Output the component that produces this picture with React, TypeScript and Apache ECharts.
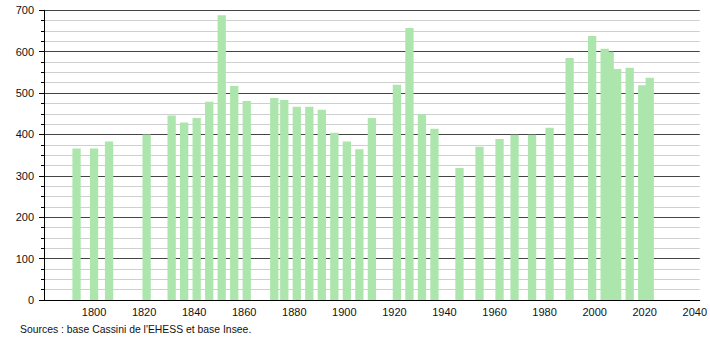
import React, { useEffect, useRef } from "react";
import * as echarts from "echarts";

const years = [
  1793, 1800, 1806, 1821, 1831, 1836, 1841, 1846, 1851, 1856, 1861,
  1872, 1876, 1881, 1886, 1891, 1896, 1901, 1906, 1911,
  1921, 1926, 1931, 1936, 1946, 1954, 1962, 1968, 1975, 1982,
  1990, 1999, 2004, 2006, 2009, 2014, 2019, 2022,
];
const population = [
  366, 366, 383, 400, 446, 429, 440, 479, 688, 517, 481,
  488, 483, 467, 467, 460, 404, 383, 364, 440,
  520, 657, 449, 414, 319, 370, 389, 399, 399, 416,
  585, 638, 607, 600, 558, 561, 519, 537,
];
const sourceText = "Sources : base Cassini de l'EHESS et base Insee.";

export default function App() {
  const ref = useRef<HTMLDivElement>(null);
  useEffect(() => {
    document.body.style.margin = "0";
    if (!ref.current) return;
    const chart = echarts.init(ref.current, null, { renderer: "svg" });
    const font = "'Liberation Sans', Arial, sans-serif";
    chart.setOption({
      animation: false,
      textStyle: { fontFamily: font },
      grid: { left: 44, right: 9, top: 10.3, bottom: 40, containLabel: false },
      xAxis: {
        type: "value",
        min: 1780,
        max: 2042,
        interval: 20,
        axisLine: { show: true, lineStyle: { color: "#000", width: 1 } },
        axisTick: { show: false },
        splitLine: { show: false },
        axisLabel: {
          color: "#111",
          fontSize: 11,
          fontFamily: font,
          margin: 6,
          showMinLabel: false,
          formatter: (v: number) => (v % 20 === 0 && v > 1780 ? String(v) : ""),
        },
      },
      yAxis: {
        type: "value",
        min: 0,
        max: 700,
        interval: 100,
        axisLine: { show: true, lineStyle: { color: "#000", width: 1 } },
        axisTick: { show: true, length: 5, lineStyle: { color: "#000" } },
        minorTick: { show: true, splitNumber: 4, length: 3, lineStyle: { color: "#000" } },
        splitLine: { show: true, lineStyle: { color: "#444", width: 1 } },
        minorSplitLine: { show: true, lineStyle: { color: "#cfcfcf", width: 1 } },
        axisLabel: { color: "#111", fontSize: 11, fontFamily: font, margin: 10 },
      },
      series: [
        {
          type: "bar",
          data: years.map((y, i) => [y, population[i]]),
          barWidth: 8.3,
          itemStyle: { color: "#ade6ad" },
          z: 3,
        },
      ],
      graphic: [
        {
          type: "text",
          left: 20,
          top: 324.5,
          style: { text: sourceText, fill: "#111", fontSize: 10.4, fontFamily: font },
        },
      ],
    });
    return () => chart.dispose();
  }, []);
  return <div ref={ref} style={{ width: 710, height: 340 }} />;
}
